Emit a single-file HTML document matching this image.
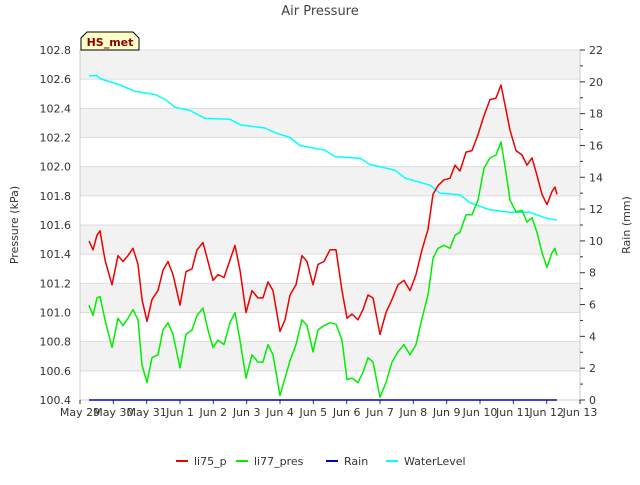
<!DOCTYPE html>
<html><head><meta charset="utf-8"><style>
html,body{margin:0;padding:0;background:#fff;}
svg{font-family:"DejaVu Sans","Liberation Sans",sans-serif;}
</style></head><body>
<svg id="chart" width="640" height="480" viewBox="0 0 640 480">
<text x="320" y="15" text-anchor="middle" font-size="13" fill="#444">Air Pressure</text>
<g id="bands"></g><g id="leftAxis"></g><g id="rightAxis"></g><g id="xAxis"></g><g id="series"></g>
<text transform="translate(18,225) rotate(-90)" text-anchor="middle" font-size="11" fill="#333">Pressure (kPa)</text>
<text transform="translate(630,225) rotate(-90)" text-anchor="middle" font-size="11" fill="#333">Rain (mm)</text>
<g>
<path d="M81,50 L81,38 L87,32 L133,32 L139,38 L139,50 Z" fill="#ffffc8" stroke="#000" stroke-width="1"/>
<text x="110" y="46" text-anchor="middle" font-size="11" font-weight="bold" fill="#8b0000">HS_met</text>
</g>
<g id="legend"></g>
</svg>
<script>
const dayLabels=["May 29","May 30","May 31","Jun 1","Jun 2","Jun 3","Jun 4","Jun 5","Jun 6","Jun 7","Jun 8","Jun 9","Jun 10","Jun 11","Jun 12","Jun 13"];
const pTicks=[100.4,100.6,100.8,101.0,101.2,101.4,101.6,101.8,102.0,102.2,102.4,102.6,102.8];
const rTicks=[0,2,4,6,8,10,12,14,16,18,20,22];
const pTimes=[0.27,0.39,0.51,0.6,0.75,0.96,1.14,1.29,1.44,1.59,1.74,1.86,2.01,2.16,2.34,2.49,2.64,2.79,3.0,3.18,3.36,3.51,3.69,3.84,3.99,4.14,4.32,4.5,4.65,4.8,4.98,5.16,5.34,5.49,5.64,5.79,6.0,6.15,6.3,6.48,6.66,6.81,6.99,7.14,7.32,7.5,7.68,7.86,8.01,8.16,8.34,8.49,8.64,8.79,9.0,9.18,9.36,9.54,9.72,9.9,10.08,10.26,10.44,10.59,10.74,10.92,11.1,11.25,11.4,11.58,11.76,11.94,12.12,12.3,12.48,12.63,12.78,12.9,13.08,13.26,13.41,13.56,13.71,13.86,14.01,14.16,14.25,14.31];
const li75=[101.49,101.43,101.53,101.56,101.36,101.19,101.39,101.35,101.39,101.44,101.33,101.09,100.94,101.09,101.15,101.29,101.35,101.26,101.05,101.28,101.3,101.43,101.48,101.35,101.22,101.26,101.24,101.36,101.46,101.29,101.0,101.15,101.1,101.1,101.21,101.15,100.87,100.95,101.12,101.19,101.39,101.35,101.19,101.33,101.35,101.43,101.43,101.15,100.96,100.99,100.95,101.02,101.12,101.1,100.85,101.0,101.09,101.19,101.22,101.15,101.26,101.43,101.57,101.81,101.87,101.91,101.92,102.01,101.97,102.1,102.11,102.22,102.35,102.46,102.47,102.56,102.39,102.25,102.11,102.08,102.01,102.06,101.94,101.81,101.74,101.83,101.86,101.81];
const li77=[101.05,100.98,101.1,101.11,100.95,100.76,100.96,100.91,100.96,101.02,100.95,100.64,100.52,100.69,100.71,100.88,100.93,100.85,100.62,100.85,100.88,100.98,101.03,100.88,100.76,100.81,100.78,100.93,101.0,100.81,100.55,100.71,100.66,100.66,100.78,100.71,100.43,100.55,100.67,100.78,100.95,100.91,100.73,100.88,100.91,100.93,100.92,100.81,100.54,100.55,100.52,100.59,100.69,100.66,100.42,100.52,100.66,100.73,100.78,100.71,100.78,100.96,101.12,101.37,101.44,101.46,101.44,101.53,101.55,101.67,101.67,101.77,101.99,102.06,102.08,102.17,101.96,101.77,101.69,101.7,101.62,101.65,101.55,101.41,101.31,101.41,101.44,101.39];
const rainTimes=[0.27,14.31];
const rain=[0,0];
const wlTimes=[0.27,0.51,0.6,1.2,1.65,2.25,2.55,2.85,3.3,3.75,4.5,4.8,5.55,5.85,6.3,6.6,7.35,7.65,8.4,8.7,9.45,9.75,10.5,10.8,11.4,11.7,12.3,12.9,13.5,13.95,14.31];
const waterLevel=[20.37,20.4,20.2,19.8,19.4,19.2,18.9,18.4,18.2,17.7,17.65,17.3,17.1,16.8,16.5,16.0,15.7,15.3,15.2,14.8,14.45,13.95,13.5,13.0,12.9,12.4,11.95,11.8,11.8,11.45,11.3];

const NS="http://www.w3.org/2000/svg";
const L=80,R=580,T=50,B=400;
const xS=d=>L+d*(R-L)/15;
const yP=v=>B-(v-100.4)*(B-T)/2.4;
const yR=v=>B-v*(B-T)/22;
function mk(tag,attrs,parent,text){const e=document.createElementNS(NS,tag);for(const k in attrs)e.setAttribute(k,attrs[k]);if(text!==undefined)e.textContent=text;parent.appendChild(e);return e;}
const bands=document.getElementById('bands');
for(let i=0;i<pTicks.length-1;i++){
  const y1=yP(pTicks[i+1]),y0=yP(pTicks[i]);
  if(i%2===1){const r=mk('rect',{x:L,y:y1,width:R-L,height:y0-y1,fill:'#f2f2f2'},bands);
  
  }
}
for(const v of pTicks){const l=mk('line',{x1:L,x2:R,y1:yP(v),y2:yP(v),stroke:'#dcdcdc','stroke-width':1},bands);

}
mk('line',{x1:L,x2:L,y1:T,y2:B,stroke:'#ccc'},bands);
mk('line',{x1:R,x2:R,y1:T,y2:B,stroke:'#ccc'},bands);
mk('line',{x1:L,x2:R,y1:B,y2:B,stroke:'#ccc'},bands);
const la=document.getElementById('leftAxis');
for(const v of pTicks){const t=mk('text',{x:L-9,y:yP(v)+4,'text-anchor':'end','font-size':11,fill:'#333'},la,v.toFixed(1));

}
const ra=document.getElementById('rightAxis');
for(const v of rTicks){mk('line',{x1:R,x2:R+5,y1:yR(v),y2:yR(v),stroke:'#333'},ra);
const t=mk('text',{x:R+9,y:yR(v)+4,'font-size':11,fill:'#333'},ra,String(v));


if(v<22)mk('line',{x1:R,x2:R+3,y1:yR(v+1),y2:yR(v+1),stroke:'#333'},ra);}
const xa=document.getElementById('xAxis');
dayLabels.forEach((s,i)=>{mk('line',{x1:xS(i),x2:xS(i),y1:B,y2:B+4,stroke:'#333'},xa);
const t=mk('text',{x:xS(i),y:B+16,'text-anchor':'middle','font-size':11,fill:'#333'},xa,s);

});
const sg=document.getElementById('series');
function line(times,vals,ys,color,name){const d=times.map((t,i)=>(i?'L':'M')+xS(t).toFixed(1)+','+ys(vals[i]).toFixed(1)).join(' ');
const p=mk('path',{d:d,fill:'none',stroke:color,'stroke-width':1.5,'stroke-linejoin':'round'},sg);

}
line(wlTimes,waterLevel,yR,'#00ffff','waterlevel-line');
line(rainTimes,rain,yR,'#0000cc','rain-line');
line(pTimes,li77,yP,'#00ee00','li77-pres-line');
line(pTimes,li75,yP,'#ee0000','li75-p-line');
const lg=document.getElementById('legend');
[['li75_p','#ee0000',176],['li77_pres','#00ee00',236],['Rain','#0000cc',326],['WaterLevel','#00ffff',386]].forEach(([n,c,x])=>{
const g=mk('g',{},lg);


mk('line',{x1:x,x2:x+12,y1:461,y2:461,stroke:c,'stroke-width':2},g);
mk('text',{x:x+18,y:465,'font-size':11,fill:'#333'},g,n);});
</script>
</body></html>
